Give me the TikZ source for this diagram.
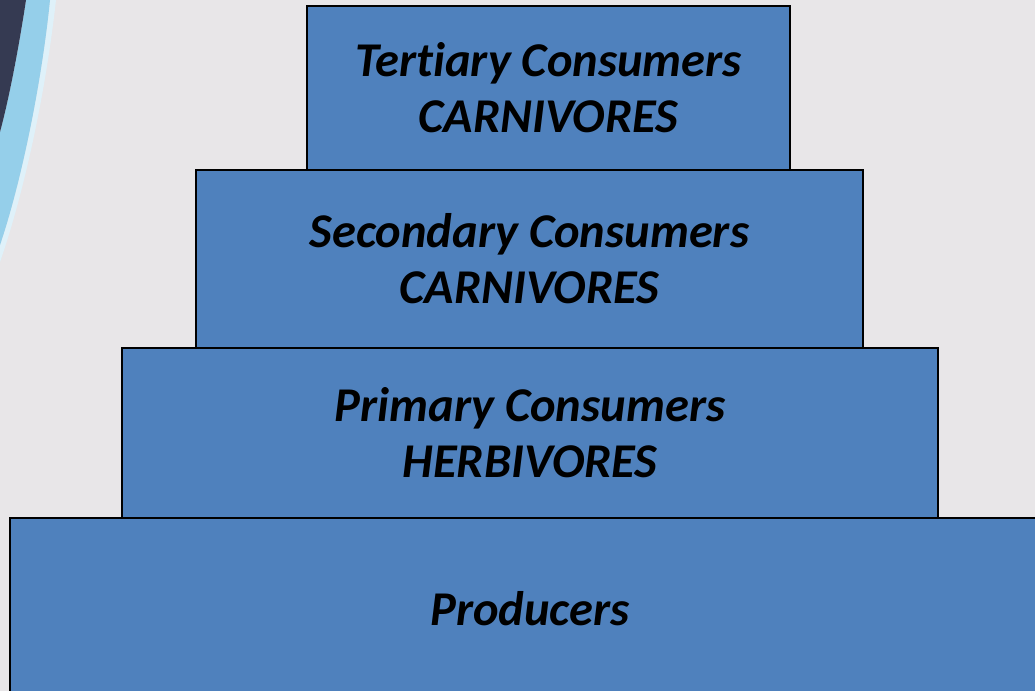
\documentclass[tikz,border=0pt]{standalone}
\usepackage{fontspec}
\setmainfont{Carlito}[Ligatures = NoCommon]
\usepackage{tikz}

\definecolor{slidebg}{HTML}{E8E6E8}
\definecolor{layerblue}{HTML}{4F81BD}
\definecolor{swooshdark}{HTML}{353A52}
\definecolor{swooshlight}{HTML}{95CFEA}

\tikzset{
  layer/.style = {draw = black , line width = 1.3pt , fill = layerblue , inner sep = 0pt ,
    align = center , font = \fontsize{34.5}{40}\selectfont\bfseries\itshape}
}

\begin{document}
\begin{tikzpicture}[x = 0.025cm , y = -0.025cm]
    \fill[slidebg] (0,0) rectangle (1035,691);
    \useasboundingbox (0,0) rectangle (1035,691);
    % swoosh at the top left
    \fill[white!70!swooshlight] (56,0) .. controls (46,90) and (25,190) .. (0,262) -- (0,245) .. controls (22,180) and (42,80) .. (50,0) -- cycle;
    \fill[swooshlight] (50,0) .. controls (42,80) and (22,180) .. (0,245) -- (0,132) .. controls (10,95) and (20,40) .. (26,0) -- cycle;
    \fill[swooshdark] (0,0) -- (26,0) .. controls (20,40) and (10,95) .. (0,132) -- cycle;
    % pyramid
    \begin{scope}
        \clip (0,0) rectangle (1035,691);
        \node[layer , minimum width = 26cm , minimum height = 4.55cm] (producers) at (530,609) {Producers};
    \end{scope}
    \node[layer , minimum width = 20.4cm , minimum height = 4.25cm] (primary) at (530,433) {Primary Consumers\\HERBIVORES};
    \node[layer , minimum width = 16.675cm , minimum height = 4.45cm] (secondary) at (529.5,259) {Secondary Consumers\\CARNIVORES};
    \node[layer , minimum width = 12.075cm , minimum height = 4.1cm] (tertiary) at (548.5,88) {Tertiary Consumers\\CARNIVORES};
\end{tikzpicture}
\end{document}
